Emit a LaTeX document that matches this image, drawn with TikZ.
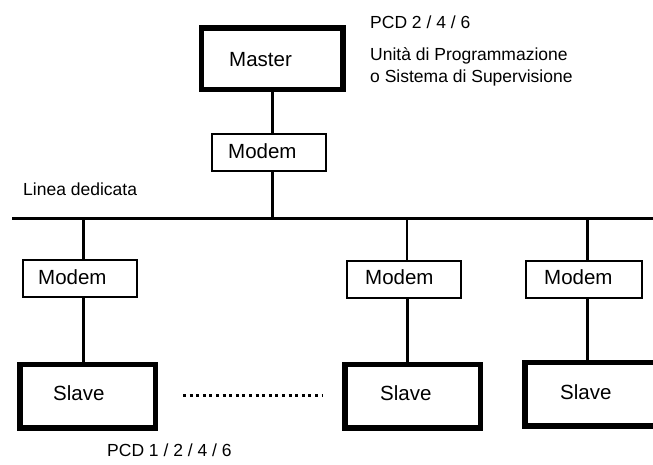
\documentclass[tikz,border=0pt]{standalone}
\usepackage{fontspec}
\setmainfont{Liberation Sans}
\begin{document}
\begin{tikzpicture}[x=1pt,y=-1pt,
  boxlabel/.style={anchor=base west,inner sep=0pt,font=\fontsize{20.5}{24}\selectfont},
  note/.style={anchor=base west,inner sep=0pt,font=\fontsize{17.5}{21}\selectfont},
  heavybox/.style={draw,line width=5.5pt,minimum width=135.5pt,minimum height=63.5pt,inner sep=0pt},
  modembox/.style={draw,line width=2pt,minimum width=114pt,minimum height=37pt,inner sep=0pt},
  wire/.style={line width=3pt},
  thinwire/.style={line width=2pt},
  dotline/.style={line width=3pt,dash pattern=on 3pt off 3.6pt}]
\useasboundingbox (0,0) rectangle (653,464);
\clip (0,0) rectangle (653,464);

% master station
\node[heavybox,minimum width=141.5pt,minimum height=61.5pt] (mast) at (272,58.5) {};
\node[boxlabel] (mastlbl) at (229,66) {Master};
\node[modembox] (mod0) at (269,152.5) {};
\node[boxlabel] (mod0lbl) at (228,158) {Modem};

% notes
\node[note] (pcdtop) at (370,28) {PCD 2 / 4 / 6};
\node[note] (unit1) at (370,60) {Unità di Programmazione};
\node[note] (unit2) at (370,82.5) {o Sistema di Supervisione};
\node[note] (linea) at (23,195) {Linea dedicata};
\node[note] (pcdbot) at (107,456) {PCD 1 / 2 / 4 / 6};

% dedicated line
\coordinate (busL) at (12,218);
\coordinate (busR) at (653,218);
\coordinate (t0) at (272,218);
\coordinate (t1) at (83,218);
\coordinate (t2) at (407,218);
\coordinate (t3) at (587,218);
\draw[wire] (busL) -- (busR);

% slave modems
\node[modembox] (mod1) at (79.5,278.5) {};
\node[boxlabel] (mod1lbl) at (38,284) {Modem};
\node[modembox] (mod2) at (404,279) {};
\node[boxlabel] (mod2lbl) at (365,284) {Modem};
\node[modembox,minimum width=116pt] (mod3) at (584,279) {};
\node[boxlabel] (mod3lbl) at (544,284) {Modem};

% slave stations
\node[heavybox] (sl1) at (87.5,396) {};
\node[boxlabel] (sl1lbl) at (53,400.5) {Slave};
\node[heavybox] (sl2) at (412.5,396) {};
\node[boxlabel] (sl2lbl) at (380,400) {Slave};
\node[heavybox] (sl3) at (592.5,394) {};
\node[boxlabel] (sl3lbl) at (560,399) {Slave};

% connections
\draw[wire] (mast.south -| t0) -- (mod0.north -| t0);
\draw[wire] (mod0.south -| t0) -- (t0);
\draw[wire] (t1) -- (mod1.north -| t1);
\draw[wire] (mod1.south -| t1) -- (sl1.north -| t1);
\draw[thinwire] (t2) -- (mod2.north -| t2);
\draw[wire] (mod2.south -| t2) -- (sl2.north -| t2);
\draw[wire] (t3) -- (mod3.north -| t3);
\draw[wire] (mod3.south -| t3) -- (sl3.north -| t3);

% further slaves omitted
\coordinate (dotA) at (183,395);
\coordinate (dotB) at (322,395);
\draw[dotline] (dotA) -- (dotB);
\end{tikzpicture}
\end{document}
